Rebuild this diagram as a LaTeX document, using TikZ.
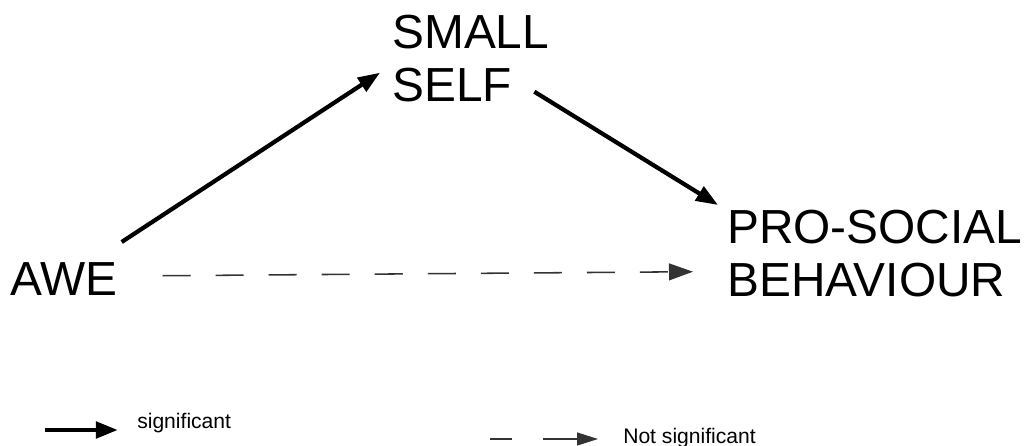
\documentclass[tikz,border=0pt]{standalone}
\usepackage{fontspec}
\setmainfont{Liberation Sans}
\usetikzlibrary{arrows.meta, positioning}

\begin{document}
\begin{tikzpicture}[
  x=0.025cm, y=-0.025cm,
  concept/.style={inner sep=0pt, align=left, anchor=north west, font=\fontsize{34}{37.7}\selectfont},
  legend/.style={inner sep=0pt, anchor=base west, font=\fontsize{15}{17}\selectfont},
  sig/.style={line width=3pt, -{Triangle[length=0.55cm, width=0.4cm]}},
  nonsig/.style={line width=1.1pt, black!80, dash pattern=on 0.7cm off 0.625cm, -{Triangle[length=0.6cm, width=0.42cm]}}
]
\useasboundingbox (0,0) rectangle (1024,446);

% Concepts
\node[concept] (small) at (392,15) {SMALL\\SELF};
\node[concept] (pro) at (727,210) {PRO-SOCIAL\\BEHAVIOUR};
\node[concept] (awe) at (10,262) {AWE};

% Mediation paths
\draw[sig] ([shift={(4,-20)}]awe.north east) -- ([shift={(-12,14)}]small.west);
\draw[sig] ([shift={(-15,33)}]small.east) -- ([shift={(-9,-5)}]pro.north west);

% Direct path
\draw[nonsig] ([shift={(45,-3)}]awe.east) -- ([shift={(-34,18)}]pro.west);

% Legend
\node[legend] (siglab) at (137,428) {significant};
\node[legend] (nonsiglab) at (623,443) {Not significant};
\coordinate (sigstart) at (45,430);
\coordinate (nonsigstart) at (490,439);
\draw[line width=3.4pt, -{Triangle[length=0.55cm, width=0.4cm]}] (sigstart) -- ([shift={(-19,2)}]siglab.base west);
\draw[line width=1.1pt, black!80, dash pattern=on 0.55cm off 0.78cm on 2cm off 0cm, -{Triangle[length=0.52cm, width=0.32cm]}] (nonsigstart) -- ([shift={(-25,-4)}]nonsiglab.base west);

\end{tikzpicture}
\end{document}
